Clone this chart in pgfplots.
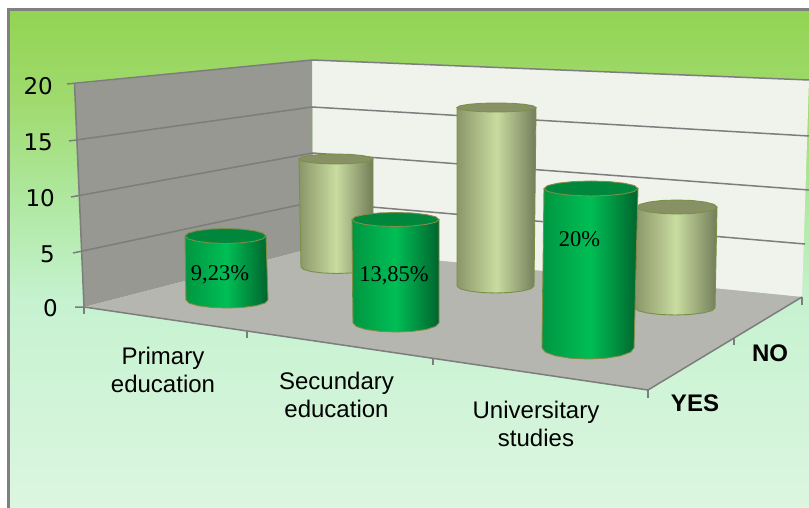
\documentclass[border=0pt]{standalone}
\usepackage{fontspec}
\setmainfont{Liberation Sans}
\newfontfamily\tickfont{DejaVu Sans}
\newfontfamily\valfont{Liberation Serif}
\usepackage{pgfplots}
\pgfplotsset{compat=1.18}

\definecolor{bgA}{RGB}{146,212,82}
\definecolor{bgB}{RGB}{160,218,110}
\definecolor{bgC}{RGB}{175,232,160}
\definecolor{bgD}{RGB}{198,242,208}
\definecolor{bgE}{RGB}{220,246,224}
\definecolor{frame}{RGB}{128,128,128}
\definecolor{sidewall}{RGB}{150,152,145}
\definecolor{backwall}{RGB}{240,243,236}
\definecolor{floorc}{RGB}{180,182,175}
\definecolor{gridc}{RGB}{125,125,125}
\definecolor{yesL}{RGB}{0,150,65}
\definecolor{yesM}{RGB}{0,190,85}
\definecolor{yesR}{RGB}{0,100,45}
\definecolor{yesT}{RGB}{0,135,60}
\definecolor{yesE}{RGB}{130,140,70}
\definecolor{noL}{RGB}{140,150,105}
\definecolor{noM}{RGB}{200,220,160}
\definecolor{noR}{RGB}{115,125,90}
\definecolor{noT}{RGB}{135,145,100}
\definecolor{noE}{RGB}{120,145,70}

\pgfplotsset{
    yesbody/.style={no markers, line width=0.9pt, draw=yesE, left color=yesL, right color=yesR, middle color=yesM},
    yestop/.style={no markers, line width=0.9pt, draw=yesE, fill=yesT},
    nobody/.style={no markers, line width=0.9pt, draw=noE, left color=noL, right color=noR, middle color=noM},
    notop/.style={no markers, line width=0.9pt, draw=noE, fill=noT},
    wire/.style={no markers, draw=gridc, line width=1.5pt},
    band/.style={no markers, draw=none},
}

\begin{document}
\begin{tikzpicture}
\begin{axis}[
    scale only axis,
    width=809pt, height=508pt,
    xmin=0, xmax=809,
    ymin=0, ymax=508,
    y dir=reverse,
    hide axis,
]

% page and chart area
\addplot[band, fill=white] coordinates {(0,0)(809,0)(809,508)(0,508)} -- cycle;
\addplot[band, top color=bgA, bottom color=bgB] coordinates {(9,10)(809,10)(809,101)(9,101)} -- cycle;
\addplot[band, top color=bgB, bottom color=bgC] coordinates {(9,100)(809,100)(809,201)(9,201)} -- cycle;
\addplot[band, top color=bgC, bottom color=bgD] coordinates {(9,200)(809,200)(809,301)(9,301)} -- cycle;
\addplot[band, top color=bgD, bottom color=bgE] coordinates {(9,300)(809,300)(809,508)(9,508)} -- cycle;
\addplot[no markers, draw=frame, line width=2.2pt] coordinates {(8.5,508)(8.5,9.5)(809,9.5)};

% walls and floor
\addplot[band, fill=backwall] coordinates {(312,60)(809,80)(802,297)(313,248)} -- cycle;
\addplot[band, fill=sidewall] coordinates {(74.5,84)(312,60)(313,248)(84,307)} -- cycle;
\addplot[band, fill=floorc] coordinates {(84,307)(313,248)(802,297)(648,390)} -- cycle;

% value axis gridlines, side wall then back wall
\addplot[wire] coordinates {(67,84)(312,60)(809,80)};
\addplot[wire] coordinates {(69,141)(312,107)(809,136)};
\addplot[wire] coordinates {(71,197)(312.5,153)(809,190)};
\addplot[wire] coordinates {(73,253)(313,202)(805,244)};
\addplot[wire] coordinates {(75,307)(84,307)(648,390)(802,297)};
\addplot[wire] coordinates {(74.5,84)(84,307)};

% ticks on the floor edges
\addplot[wire] coordinates {(84,307)(84,314)};
\addplot[wire] coordinates {(247,331)(247,338)};
\addplot[wire] coordinates {(433,358)(433,365)};
\addplot[wire] coordinates {(648,390)(648,398)};
\addplot[wire] coordinates {(734,338)(734,345)};
\addplot[wire] coordinates {(802,297)(802,305)};

% NO series
\addplot[nobody] coordinates {(299,159)(301,267)(303.7,269.5)(311.5,271.6)(323.2,273)(337,273.5)(350.8,273)(362.5,271.6)(370.3,269.5)(373,267)(373,159)} -- cycle;
\addplot[notop] coordinates {(373,159)(370.2,160.9)(362.2,162.5)(350.2,163.6)(336,164)(321.8,163.6)(309.8,162.5)(301.8,160.9)(299,159)(301.8,157.1)(309.8,155.5)(321.8,154.4)(336,154)(350.2,154.4)(362.2,155.5)(370.2,157.1)} -- cycle;

\addplot[nobody] coordinates {(457,107.5)(457,286)(459.9,288.7)(468.3,290.9)(480.8,292.5)(495.5,293)(510.2,292.5)(522.7,290.9)(531.1,288.7)(534,286)(536,107.5)} -- cycle;
\addplot[notop] coordinates {(536,107.5)(533,109.2)(524.4,110.7)(511.6,111.7)(496.5,112)(481.4,111.7)(468.6,110.7)(460,109.2)(457,107.5)(460,105.8)(468.6,104.3)(481.4,103.3)(496.5,103)(511.6,103.3)(524.4,104.3)(533,105.8)} -- cycle;

\addplot[nobody] coordinates {(637,207)(635,308)(638,310.7)(646.7,312.9)(659.7,314.5)(675,315)(690.3,314.5)(703.3,312.9)(712,310.7)(715,308)(717,207)} -- cycle;
\addplot[notop] coordinates {(717,207)(714,209.7)(705.3,211.9)(692.3,213.5)(677,214)(661.7,213.5)(648.7,211.9)(640,209.7)(637,207)(640,204.3)(648.7,202.1)(661.7,200.5)(677,200)(692.3,200.5)(705.3,202.1)(714,204.3)} -- cycle;

% YES series
\addplot[yesbody] coordinates {(185,236)(186,300)(189.1,303.1)(198,305.7)(211.3,307.4)(227,308)(242.7,307.4)(256,305.7)(264.9,303.1)(268,300)(266,236)} -- cycle;
\addplot[yestop] coordinates {(266,236)(262.9,238.9)(254.1,241.3)(241,242.9)(225.5,243.5)(210,242.9)(196.9,241.3)(188.1,238.9)(185,236)(188.1,233.1)(196.9,230.7)(210,229.1)(225.5,228.5)(241,229.1)(254.1,230.7)(262.9,233.1)} -- cycle;

\addplot[yesbody] coordinates {(352,219.5)(353,323)(356.3,326.4)(365.6,329.4)(379.5,331.3)(396,332)(412.5,331.3)(426.4,329.4)(435.7,326.4)(439,323)(439,219.5)} -- cycle;
\addplot[yestop] coordinates {(439,219.5)(435.7,222.2)(426.3,224.4)(412.2,226)(395.5,226.5)(378.8,226)(364.7,224.4)(355.3,222.2)(352,219.5)(355.3,216.8)(364.7,214.6)(378.8,213)(395.5,212.5)(412.2,213)(426.3,214.6)(435.7,216.8)} -- cycle;

\addplot[yesbody] coordinates {(544,188.5)(542,348)(545.5,352.2)(555.5,355.8)(570.4,358.2)(588,359)(605.6,358.2)(620.5,355.8)(630.5,352.2)(634,348)(638,188.5)} -- cycle;
\addplot[yestop] coordinates {(638,188.5)(634.4,191.4)(624.2,193.8)(609,195.4)(591,196)(573,195.4)(557.8,193.8)(547.6,191.4)(544,188.5)(547.6,185.6)(557.8,183.2)(573,181.6)(591,181)(609,181.6)(624.2,183.2)(634.4,185.6)} -- cycle;

% value labels
\node[font=\valfont\fontsize{22.5}{26}\selectfont] at (axis cs:220,275) {9,23\%};
\node[font=\valfont\fontsize{22.5}{26}\selectfont] at (axis cs:394,276) {13,85\%};
\node[font=\valfont\fontsize{22.5}{26}\selectfont] at (axis cs:579.5,239) {20\%};

% value axis labels
\node[anchor=east, inner sep=0pt, font=\tickfont\fontsize{23}{26}\selectfont] at (axis cs:53,86) {20};
\node[anchor=east, inner sep=0pt, font=\tickfont\fontsize{23}{26}\selectfont] at (axis cs:53,142) {15};
\node[anchor=east, inner sep=0pt, font=\tickfont\fontsize{23}{26}\selectfont] at (axis cs:55,198) {10};
\node[anchor=east, inner sep=0pt, font=\tickfont\fontsize{23}{26}\selectfont] at (axis cs:55,254) {5};
\node[anchor=east, inner sep=0pt, font=\tickfont\fontsize{23}{26}\selectfont] at (axis cs:58,308) {0};

% category labels
\node[align=center, inner sep=0pt, font=\fontsize{24}{28}\selectfont] at (axis cs:163,370) {Primary\\education};
\node[align=center, inner sep=0pt, font=\fontsize{24}{28}\selectfont] at (axis cs:336.5,395) {Secundary\\education};
\node[align=center, inner sep=0pt, font=\fontsize{24}{28}\selectfont] at (axis cs:536,424) {Universitary\\studies};

% depth axis labels
\node[inner sep=0pt, font=\bfseries\fontsize{24}{28}\selectfont] at (axis cs:770,353) {NO};
\node[inner sep=0pt, font=\bfseries\fontsize{24}{28}\selectfont] at (axis cs:695,403) {YES};

\end{axis}
\end{tikzpicture}
\end{document}
